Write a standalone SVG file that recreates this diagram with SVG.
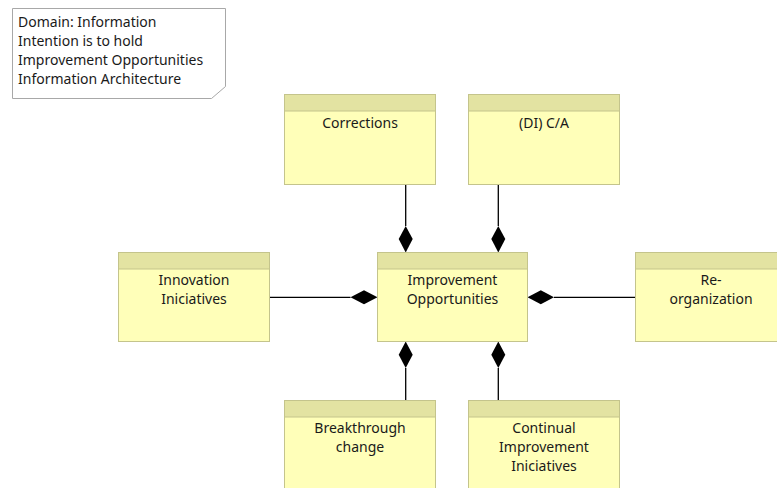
<svg xmlns="http://www.w3.org/2000/svg" width="777" height="488" viewBox="0 0 777 488">
  <style>
    text { font-family: "Noto Sans", "Open Sans", "DejaVu Sans", sans-serif; font-size: 14px; fill: #1a1a1a; }
    .c { text-anchor: middle; }
    .body { fill: #ffffb9; stroke: #c4c48c; stroke-width: 1; }
    .head { fill: #e3e3a2; stroke: #c4c48c; stroke-width: 1; }
    .note { fill: #ffffff; stroke: #a8a8a8; stroke-width: 1; }
    .link { stroke: #000000; stroke-width: 1.3; fill: none; }
    .dia { fill: #000000; stroke: none; }
  </style>

  <!-- annotation note -->
  <g id="note">
    <path class="note" d="M12.5,8.5 H225.5 V86.5 L211.5,98.5 H12.5 Z"/>
    <text x="18" y="27">Domain: Information</text>
    <text x="18" y="46">Intention is to hold</text>
    <text x="18" y="65">Improvement Opportunities</text>
    <text x="18" y="84">Information Architecture</text>
  </g>

  <!-- composition connectors -->
  <g id="connectors">
    <line class="link" x1="405.7" y1="184.5" x2="405.7" y2="226"/>
    <polygon class="dia" points="405.7,226 412.7,239 405.7,252.5 398.7,239"/>
    <line class="link" x1="498.3" y1="184.5" x2="498.3" y2="226"/>
    <polygon class="dia" points="498.3,226 505.3,239 498.3,252.5 491.3,239"/>

    <line class="link" x1="269.5" y1="297.3" x2="350.5" y2="297.3"/>
    <polygon class="dia" points="350.5,297.3 364,290.3 377.5,297.3 364,304.3"/>

    <line class="link" x1="635.5" y1="297.3" x2="554" y2="297.3"/>
    <polygon class="dia" points="527.5,297.3 540.8,290.3 554,297.3 540.8,304.3"/>

    <line class="link" x1="405.7" y1="368" x2="405.7" y2="400.5"/>
    <polygon class="dia" points="405.7,341.5 412.7,354.8 405.7,368 398.7,354.8"/>
    <line class="link" x1="498.3" y1="368" x2="498.3" y2="400.5"/>
    <polygon class="dia" points="498.3,341.5 505.3,354.8 498.3,368 491.3,354.8"/>
  </g>

  <g id="corrections">
    <rect class="body" x="284.5" y="94.5" width="151" height="90"/>
    <rect class="head" x="284.5" y="94.5" width="151" height="16.5"/>
    <text class="c" x="360" y="128">Corrections</text>
  </g>

  <g id="di-ca">
    <rect class="body" x="468.5" y="94.5" width="151" height="90"/>
    <rect class="head" x="468.5" y="94.5" width="151" height="16.5"/>
    <text class="c" x="544" y="128">(DI) C/A</text>
  </g>

  <g id="innovation-iniciatives">
    <rect class="body" x="118.5" y="252.5" width="151" height="89"/>
    <rect class="head" x="118.5" y="252.5" width="151" height="16.5"/>
    <text class="c" x="194" y="285">Innovation</text>
    <text class="c" x="194" y="304">Iniciatives</text>
  </g>

  <g id="improvement-opportunities">
    <rect class="body" x="377.5" y="252.5" width="150" height="89"/>
    <rect class="head" x="377.5" y="252.5" width="150" height="16.5"/>
    <text class="c" x="452.5" y="285">Improvement</text>
    <text class="c" x="452.5" y="304">Opportunities</text>
  </g>

  <g id="re-organization">
    <rect class="body" x="635.5" y="252.5" width="151" height="89"/>
    <rect class="head" x="635.5" y="252.5" width="151" height="16.5"/>
    <text class="c" x="711" y="285">Re-</text>
    <text class="c" x="711" y="304">organization</text>
  </g>

  <g id="breakthrough-change">
    <rect class="body" x="284.5" y="400.5" width="151" height="90"/>
    <rect class="head" x="284.5" y="400.5" width="151" height="16.5"/>
    <text class="c" x="360" y="433">Breakthrough</text>
    <text class="c" x="360" y="452">change</text>
  </g>

  <g id="continual-improvement-iniciatives">
    <rect class="body" x="468.5" y="400.5" width="151" height="90"/>
    <rect class="head" x="468.5" y="400.5" width="151" height="16.5"/>
    <text class="c" x="544" y="433">Continual</text>
    <text class="c" x="544" y="452">Improvement</text>
    <text class="c" x="544" y="471">Iniciatives</text>
  </g>
</svg>
